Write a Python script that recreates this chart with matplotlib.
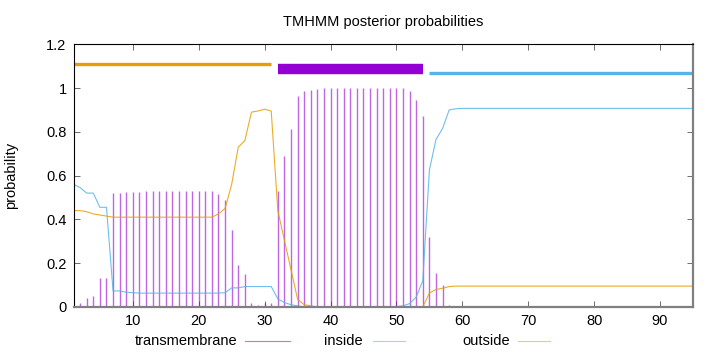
import matplotlib
matplotlib.use('Agg')
import matplotlib.pyplot as plt
import numpy as np

plt.rcParams['font.family'] = ['Liberation Sans', 'DejaVu Sans']

# residue positions 1..95
pos = list(range(1, 96))

# posterior probabilities
tm_head = [0.0, 0.02, 0.04, 0.05, 0.13, 0.13, 0.52, 0.52, 0.525, 0.525,
           0.525, 0.53, 0.53, 0.53, 0.53, 0.53, 0.53, 0.53, 0.53, 0.53,
           0.53, 0.53, 0.515, 0.49, 0.35, 0.19, 0.15, 0.02, 0.01, 0.02,
           0.02, 0.53, 0.69, 0.815, 0.965, 0.987, 0.99, 0.995, 1.0, 1.0,
           1.0, 1.0, 1.0, 1.0, 1.0, 1.0, 1.0, 1.0, 1.0, 1.0,
           1.0, 0.985, 0.945, 0.87, 0.32, 0.155, 0.10, 0.01]
transmembrane = tm_head + [0.0] * (95 - len(tm_head))

in_head = [0.56, 0.545, 0.52, 0.52, 0.455, 0.455, 0.073, 0.073, 0.067, 0.065,
           0.063, 0.063, 0.063, 0.063, 0.063, 0.063, 0.063, 0.063, 0.063, 0.063,
           0.063, 0.063, 0.063, 0.065, 0.087, 0.087, 0.093, 0.093, 0.093, 0.093,
           0.093, 0.037, 0.02, 0.01, 0.005, 0.0, 0.0, 0.0, 0.0, 0.0,
           0.0, 0.0, 0.0, 0.0, 0.0, 0.0, 0.0, 0.0, 0.0, 0.002,
           0.005, 0.015, 0.045, 0.12, 0.625, 0.765, 0.815, 0.9, 0.905]
inside = in_head + [0.907] * (95 - len(in_head))

out_head = [0.44, 0.44, 0.435, 0.425, 0.42, 0.415, 0.41, 0.41, 0.41, 0.41,
            0.41, 0.41, 0.41, 0.41, 0.41, 0.41, 0.41, 0.41, 0.41, 0.41,
            0.41, 0.41, 0.425, 0.45, 0.56, 0.73, 0.76, 0.89, 0.895, 0.903,
            0.895, 0.44, 0.305, 0.17, 0.035, 0.01, 0.005, 0.0, 0.0, 0.0,
            0.0, 0.0, 0.0, 0.0, 0.0, 0.0, 0.0, 0.0, 0.0, 0.0,
            0.0, 0.0, 0.0, 0.0, 0.063, 0.08, 0.085, 0.093]
outside = out_head + [0.095] * (95 - len(out_head))

# predicted topology segments (start, end)
seg_outside = (1, 31)
seg_tm = (32, 54)
seg_inside = (55, 95)

c_tm = '#9400D3'
c_in = '#56B4E9'
c_out = '#E69F00'

fig = plt.figure(figsize=(7.2, 3.52), dpi=100)
ax = fig.add_axes([0.1021, 0.1281, 0.8604, 0.7462])

ax.vlines(pos, 0, transmembrane, color=c_tm, lw=1.0, alpha=0.6, label='transmembrane')
ax.plot(pos, inside, color=c_in, lw=0.8, alpha=0.85, label='inside')
ax.plot(pos, outside, color=c_out, lw=0.8, alpha=0.85, label='outside')

# topology bars at the top
ax.plot(seg_outside, [1.112, 1.112], color=c_out, lw=2.4, solid_capstyle='butt')
ax.plot(seg_tm, [1.089, 1.089], color=c_tm, lw=7.5, solid_capstyle='butt')
ax.plot(seg_inside, [1.07, 1.07], color=c_in, lw=2.4, solid_capstyle='butt')

ax.set_xlim(1, 95)
ax.set_ylim(0, 1.2)
ax.set_xticks([10, 20, 30, 40, 50, 60, 70, 80, 90])
ax.set_yticks([0, 0.2, 0.4, 0.6, 0.8, 1.0, 1.2])
ax.set_yticklabels(['0', '0.2', '0.4', '0.6', '0.8', '1', '1.2'])
ax.tick_params(direction='in', top=True, right=True, length=4, width=0.6,
               labelsize=10.5, pad=5, colors='#555555', labelcolor='black')
for s in ['top', 'left']:
    ax.spines[s].set_linewidth(0.8)
    ax.spines[s].set_color('black')
for s in ['bottom', 'right']:
    ax.spines[s].set_linewidth(1.6)
    ax.spines[s].set_color('#808080')

ax.set_title('TMHMM posterior probabilities', fontsize=10.5, pad=13)
ax.set_ylabel('probability', fontsize=10.5, labelpad=20)

# legend row under the axis
leg_y = 1 - 341 / 352
entries = [('transmembrane', c_tm, 237, 245, 290),
           ('inside', c_in, 363, 373, 405),
           ('outside', c_out, 510, 518, 550)]
for text, col, tx, x0, x1 in entries:
    fig.text(tx / 720, leg_y, text, ha='right', va='center', fontsize=10.5)
    fig.add_artist(plt.Line2D([x0 / 720, x1 / 720], [leg_y, leg_y],
                              color=col, lw=0.8, alpha=0.55, transform=fig.transFigure))

fig.savefig('out.png', dpi=100)
